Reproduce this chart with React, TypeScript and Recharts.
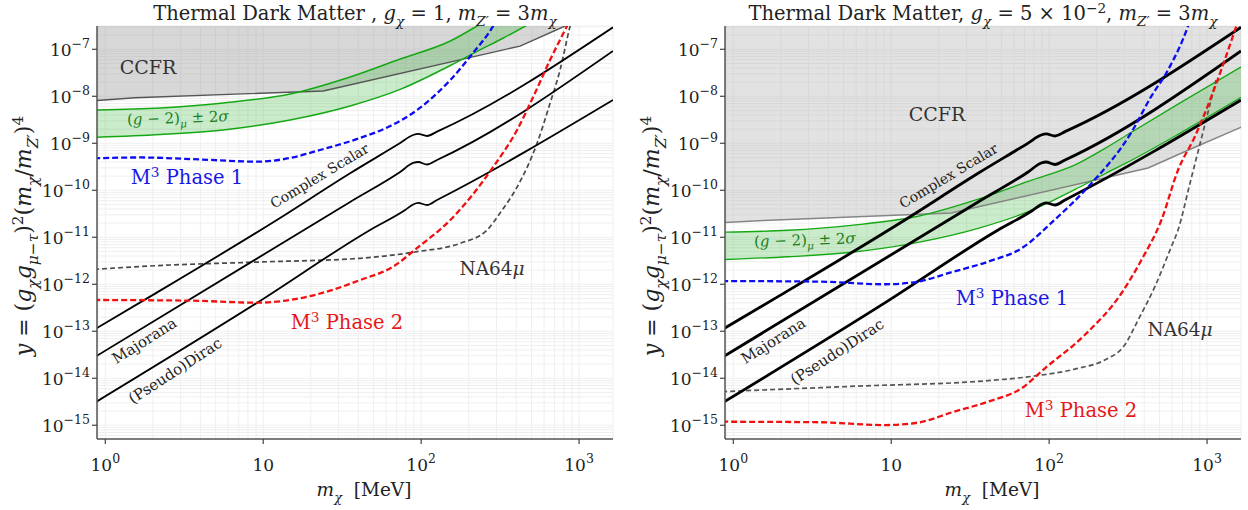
import { ComposedChart, Line, Area, XAxis, YAxis, CartesianGrid } from 'recharts';

// axis ranges
const X_MIN = 0.886;
const X_MAX = 1640;
const Y_MIN = 5.1e-16;
const Y_MAX = 3.13e-7;
const BAND_TOP = 1e-4; // CCFR region runs off the top of the plot

const SERIF = '"DejaVu Serif", "Times New Roman", serif';

// thermal targets (same in both panels)
const scalarX = [0.88, 1.93, 12.2, 35.5, 73.6, 89, 95.7, 109, 126, 1641];
const scalarY = [1.16e-13, 5.52e-13, 2.33e-11, 2.3e-10, 1.01e-9, 1.5e-9, 1.58e-9, 1.43e-9, 1.77e-9, 2.94e-7];
const majX = [0.88, 35.5, 73.6, 89, 95.7, 109, 126, 1641];
const majY = [2.98e-14, 5.64e-11, 2.45e-10, 3.81e-10, 4.0e-10, 3.54e-10, 4.41e-10, 9.2e-8];
const diracX = [0.88, 9.16, 47.5, 79.2, 89, 95.7, 109, 126, 1641];
const diracY = [3.18e-15, 4.06e-13, 1.43e-11, 3.81e-11, 4.99e-11, 5.37e-11, 4.86e-11, 6.22e-11, 8.34e-9];

// CCFR exclusion boundary
const ccfrX = [0.85, 1.55, 24, 423, 815, 1700];
const ccfrLeftY = [8.05e-9, 9.33e-9, 1.3e-8, 1.17e-7, 3.13e-7, 9.2e-7];
const ccfrRightY = [2.05e-11, 2.28e-11, 3.29e-11, 2.98e-10, 7.94e-10, 2.3e-9];

// (g-2)_mu +- 2 sigma band
const g2X = [0.85, 2.23, 5.58, 14.8, 35.5, 73.6, 153, 226, 330, 655, 1641];
const g2LeftHi = [5.11e-9, 5.64e-9, 7.2e-9, 1.12e-8, 2.58e-8, 6.22e-8, 1.5e-7, 3.13e-7, 6.86e-7, 2.7e-6, 1.66e-5];
const g2LeftLo = [1.34e-9, 1.54e-9, 1.92e-9, 3.13e-9, 6.22e-9, 1.4e-8, 4.52e-8, 9.02e-8, 1.72e-7, 6.15e-7, 3.81e-6];
const g2RightHi = [1.28e-11, 1.41e-11, 1.8e-11, 2.8e-11, 6.45e-11, 1.55e-10, 3.75e-10, 7.8e-10, 1.7e-9, 6.8e-9, 4.2e-8];
const g2RightLo = [3.35e-12, 3.85e-12, 4.8e-12, 7.8e-12, 1.55e-11, 3.5e-11, 1.13e-10, 2.25e-10, 4.3e-10, 1.55e-9, 9.5e-9];

// M3 Phase 1
const p1LeftX = [0.85, 1.67, 3.99, 9.16, 14.8, 22.9, 41.1, 63.7, 94.3, 153, 213, 286, 330];
const p1LeftY = [4.8e-10, 4.99e-10, 4.52e-10, 4.06e-10, 4.87e-10, 7.2e-10, 1.3e-9, 2.33e-9, 5.11e-9, 2.22e-8, 8.34e-8, 3.13e-7, 7.6e-7];
const p1RightX = [0.85, 3.45, 9.13, 14.8, 23.6, 41.1, 66.9, 108, 177, 330, 442, 566, 758, 839];
const p1RightY = [1.17e-12, 1.14e-12, 1.0e-12, 1.14e-12, 1.77e-12, 3.03e-12, 5.83e-12, 2.33e-11, 1.19e-10, 1.66e-9, 9.8e-9, 3.63e-8, 3.13e-7, 8.8e-7];

// M3 Phase 2
const p2LeftX = [0.85, 3.45, 9.16, 14.8, 26.5, 41.1, 66.5, 94.3, 153, 286, 405, 512, 655, 839, 1000];
const p2LeftY = [4.63e-13, 4.48e-13, 4.06e-13, 4.63e-13, 7.31e-13, 1.23e-12, 2.37e-12, 5.92e-12, 2.33e-11, 3.13e-10, 1.92e-9, 9.66e-9, 5.92e-8, 3.13e-7, 1.0e-6];
const p2RightX = [0.85, 3.45, 9.13, 14.8, 24.7, 41.1, 66.9, 94, 168, 287, 384, 514, 655, 836, 1064, 1294, 1532, 1740];
const p2RightY = [1.19e-15, 1.16e-15, 1.01e-15, 1.14e-15, 1.92e-15, 3.18e-15, 6.12e-15, 1.63e-14, 8.34e-14, 6.44e-13, 3.29e-12, 2.33e-11, 2.7e-10, 1.38e-9, 9.8e-9, 5.92e-8, 3.13e-7, 1.1e-6];

// NA64mu
const naLeftX = [0.85, 2.12, 9.57, 41.1, 94.3, 177, 262, 316, 405, 542, 655, 758, 877, 1000];
const naLeftY = [2.08e-12, 2.49e-12, 2.98e-12, 3.57e-12, 4.94e-12, 7.45e-12, 1.43e-11, 3.29e-11, 1.17e-10, 1.0e-9, 7.1e-9, 3.63e-8, 3.13e-7, 1.5e-6];
const naRightX = [0.85, 6.0, 41.1, 81.2, 153, 225, 301, 366, 467, 594, 655, 780, 943, 1140];
const naRightY = [5.19e-15, 6.79e-15, 8.89e-15, 1.12e-14, 1.63e-14, 2.45e-14, 5.11e-14, 1.74e-13, 8.89e-13, 6.31e-12, 1.43e-11, 1.43e-10, 1.74e-9, 2.22e-8];

const pts = (xs: number[], ys: number[]) => xs.map((x, i) => ({ x, y: ys[i] }));
const rangePts = (xs: number[], lo: number[], hi: number[]) => xs.map((x, i) => ({ x, r: [lo[i], hi[i]] }));

// grid at every 1..9 x 10^k
const gridVals = (lo: number, hi: number, e0: number, e1: number) => {
  const out: number[] = [];
  for (let e = e0; e <= e1; e++) {
    for (let m = 1; m <= 9; m++) {
      const v = m * Math.pow(10, e);
      if (v >= lo && v <= hi) out.push(v);
    }
  }
  return out;
};
const gridX = gridVals(X_MIN, X_MAX, -1, 3);
const gridY = gridVals(Y_MIN, Y_MAX, -16, -7);

const isDecade = (v: number) => Math.abs(Math.log10(v) - Math.round(Math.log10(v))) < 1e-6;

const XTick = (props: any) => {
  const { x, y, payload } = props;
  const v = payload.value;
  if (!isDecade(v)) return <g />;
  const e = Math.round(Math.log10(v));
  return (
    <g>
      <line x1={x} x2={x} y1={y} y2={y + 5} stroke="#444" strokeWidth={1.2} />
      <text x={x} y={y + 32} textAnchor="middle" fontSize={17} style={{ fontFamily: SERIF }} fill="#222">
        {e === 1 ? '10' : (
          <>10<tspan dy={-8} fontSize={12.5}>{e}</tspan></>
        )}
      </text>
    </g>
  );
};

const YTick = (props: any) => {
  const { x, y, payload } = props;
  const v = payload.value;
  if (!isDecade(v)) return <g />;
  const e = Math.round(Math.log10(v));
  return (
    <g>
      <line x1={x - 5} x2={x} y1={y} y2={y} stroke="#444" strokeWidth={1.2} />
      <text x={x - 7} y={y + 7} textAnchor="end" fontSize={17} style={{ fontFamily: SERIF }} fill="#222">
        10<tspan dy={-8} fontSize={12.5}>{'\u2212' + Math.abs(e)}</tspan>
      </text>
    </g>
  );
};

type Seg = { t: string; it?: boolean; sub?: boolean; sup?: boolean };

const MathText = ({ x, y, segs, size, fill = '#222', anchor = 'middle', rotate = 0 }: {
  x: number; y: number; segs: Seg[]; size: number; fill?: string; anchor?: string; rotate?: number;
}) => {
  let shift = 0;
  const spans = segs.map((s, i) => {
    const target = s.sub ? size * 0.3 : s.sup ? -size * 0.38 : 0;
    const dy = target - shift;
    shift = target;
    return (
      <tspan key={i} dy={dy} fontStyle={s.it ? 'italic' : 'normal'} fontSize={s.sub || s.sup ? size * 0.7 : size}>
        {s.t}
      </tspan>
    );
  });
  return (
    <text
      x={x}
      y={y}
      textAnchor={anchor as any}
      fontSize={size}
      fill={fill}
      style={{ whiteSpace: 'pre', fontFamily: SERIF }}
      transform={rotate ? `rotate(${rotate} ${x} ${y})` : undefined}
    >
      {spans}
    </text>
  );
};

interface PanelProps {
  ccfrY: number[];
  ccfrFill: string;
  ccfrOpacity: number;
  ccfrStroke: string;
  g2Lo: number[];
  g2Hi: number[];
  p1X: number[];
  p1Y: number[];
  p2X: number[];
  p2Y: number[];
  naX: number[];
  naY: number[];
  naColor: string;
  thermalWidth: number;
  g2Width: number;
}

const Panel = (p: PanelProps) => (
  <ComposedChart width={620} height={510} margin={{ top: 26, right: 7, bottom: 31, left: 37 }}>
    <CartesianGrid stroke="#efefef" strokeWidth={1} />
    <XAxis
      dataKey="x"
      type="number"
      scale="log"
      domain={[X_MIN, X_MAX]}
      allowDataOverflow
      ticks={gridX}
      interval={0}
      tick={<XTick />}
      tickLine={false}
      tickSize={0}
      tickMargin={0}
      height={40}
      axisLine={{ stroke: '#555', strokeWidth: 1.5 }}
    />
    <XAxis
      xAxisId="top"
      orientation="top"
      type="number"
      scale="log"
      domain={[X_MIN, X_MAX]}
      allowDataOverflow
      tick={false}
      tickLine={false}
      height={0}
      axisLine={{ stroke: '#555', strokeWidth: 1.5 }}
    />
    <YAxis
      type="number"
      scale="log"
      domain={[Y_MIN, Y_MAX]}
      allowDataOverflow
      ticks={gridY}
      interval={0}
      tick={<YTick />}
      tickLine={false}
      tickSize={0}
      tickMargin={0}
      width={60}
      axisLine={{ stroke: '#555', strokeWidth: 1.5 }}
    />
    <YAxis
      yAxisId="right"
      orientation="right"
      type="number"
      scale="log"
      domain={[Y_MIN, Y_MAX]}
      allowDataOverflow
      tick={false}
      tickLine={false}
      width={0}
      axisLine={{ stroke: '#555', strokeWidth: 1.5 }}
    />

    <Area
      data={rangePts(ccfrX, p.ccfrY, ccfrX.map(() => BAND_TOP))}
      dataKey="r"
      type="linear"
      fill={p.ccfrFill}
      fillOpacity={p.ccfrOpacity}
      stroke="none"
      isAnimationActive={false}
    />
    <Line data={pts(ccfrX, p.ccfrY)} dataKey="y" type="linear" stroke={p.ccfrStroke} strokeWidth={1.4} dot={false} isAnimationActive={false} />

    <Area
      data={rangePts(g2X, p.g2Lo, p.g2Hi)}
      dataKey="r"
      type="monotoneX"
      fill="#3cb83c"
      fillOpacity={0.27}
      stroke="none"
      isAnimationActive={false}
    />
    <Line data={pts(g2X, p.g2Hi)} dataKey="y" type="monotoneX" stroke="#14a814" strokeWidth={p.g2Width} dot={false} isAnimationActive={false} />
    <Line data={pts(g2X, p.g2Lo)} dataKey="y" type="monotoneX" stroke="#14a814" strokeWidth={p.g2Width} dot={false} isAnimationActive={false} />

    <Line data={pts(p.naX, p.naY)} dataKey="y" type="monotoneX" stroke={p.naColor} strokeWidth={1.7} strokeDasharray="5 3" dot={false} isAnimationActive={false} />

    <Line data={pts(scalarX, scalarY)} dataKey="y" type="monotoneX" stroke="#000" strokeWidth={p.thermalWidth} dot={false} isAnimationActive={false} />
    <Line data={pts(majX, majY)} dataKey="y" type="monotoneX" stroke="#000" strokeWidth={p.thermalWidth} dot={false} isAnimationActive={false} />
    <Line data={pts(diracX, diracY)} dataKey="y" type="monotoneX" stroke="#000" strokeWidth={p.thermalWidth} dot={false} isAnimationActive={false} />

    <Line data={pts(p.p1X, p.p1Y)} dataKey="y" type="monotoneX" stroke="#0c0cf2" strokeWidth={2.3} strokeDasharray="6 3" dot={false} isAnimationActive={false} />
    <Line data={pts(p.p2X, p.p2Y)} dataKey="y" type="monotoneX" stroke="#f01010" strokeWidth={2.3} strokeDasharray="6 3" dot={false} isAnimationActive={false} />
  </ComposedChart>
);

const chi: Seg = { t: '\u03c7', it: true, sub: true };
const zp: Seg = { t: 'Z\u2032', it: true, sub: true };

const yLabel: Seg[] = [
  { t: 'y', it: true }, { t: ' = (' }, { t: 'g', it: true }, chi, { t: 'g', it: true }, { t: '\u03bc\u2212\u03c4', it: true, sub: true },
  { t: ')' }, { t: '2', sup: true }, { t: '(' }, { t: 'm', it: true }, chi, { t: '/' }, { t: 'm', it: true }, zp, { t: ')' }, { t: '4', sup: true },
];
const xLabel: Seg[] = [{ t: 'm', it: true }, chi, { t: '  [MeV]' }];
const g2Label: Seg[] = [{ t: '(' }, { t: 'g', it: true }, { t: ' \u2212 2)' }, { t: '\u03bc', it: true, sub: true }, { t: ' \u00b1 2' }, { t: '\u03c3', it: true }];
const ph1: Seg[] = [{ t: 'M' }, { t: '3', sup: true }, { t: ' Phase 1' }];
const ph2: Seg[] = [{ t: 'M' }, { t: '3', sup: true }, { t: ' Phase 2' }];
const na64: Seg[] = [{ t: 'NA64' }, { t: '\u03bc', it: true }];
const titleLeft: Seg[] = [
  { t: 'Thermal Dark Matter , ' }, { t: 'g', it: true }, chi, { t: ' = 1, ' }, { t: 'm', it: true }, zp, { t: ' = 3' }, { t: 'm', it: true }, chi,
];
const titleRight: Seg[] = [
  { t: 'Thermal Dark Matter, ' }, { t: 'g', it: true }, chi, { t: ' = 5 \u00d7 10' }, { t: '\u22122', sup: true }, { t: ', ' },
  { t: 'm', it: true }, zp, { t: ' = 3' }, { t: 'm', it: true }, chi,
];

const BLUE = '#1818e6';
const RED = '#e61818';
const GREEN_TXT = '#1b7f1b';

export default function App() {
  return (
    <div style={{ position: 'absolute', left: 0, top: 0, width: 1248, height: 510, background: '#fff' }}>
      <div style={{ position: 'absolute', left: 0, top: 0 }}>
        <Panel
          ccfrY={ccfrLeftY} ccfrFill="#9c9c9c" ccfrOpacity={0.4} ccfrStroke="#555"
          g2Lo={g2LeftLo} g2Hi={g2LeftHi}
          p1X={p1LeftX} p1Y={p1LeftY} p2X={p2LeftX} p2Y={p2LeftY}
          naX={naLeftX} naY={naLeftY} naColor="#4a4a4a"
          thermalWidth={1.8} g2Width={1.5}
        />
      </div>
      <div style={{ position: 'absolute', left: 628, top: 0 }}>
        <Panel
          ccfrY={ccfrRightY} ccfrFill="#b0b0b0" ccfrOpacity={0.36} ccfrStroke="#858585"
          g2Lo={g2RightLo} g2Hi={g2RightHi}
          p1X={p1RightX} p1Y={p1RightY} p2X={p2RightX} p2Y={p2RightY}
          naX={naRightX} naY={naRightY} naColor="#555"
          thermalWidth={2.8} g2Width={1.3}
        />
      </div>
      <svg width={1248} height={510} style={{ position: 'absolute', left: 0, top: 0, pointerEvents: 'none' }}>
        {/* titles and axis labels */}
        <MathText x={355} y={20} segs={titleLeft} size={19.5} />
        <MathText x={983} y={20} segs={titleRight} size={19.5} />
        <MathText x={31} y={236} segs={yLabel} size={22} rotate={-90} />
        <MathText x={659} y={236} segs={yLabel} size={22} rotate={-90} />
        <MathText x={364} y={496} segs={xLabel} size={18.5} />
        <MathText x={992} y={496} segs={xLabel} size={18.5} />

        {/* left panel annotations */}
        <MathText x={148} y={74} segs={[{ t: 'CCFR' }]} size={19} fill="#333" />
        <MathText x={178} y={123} segs={g2Label} size={15} fill={GREEN_TXT} rotate={-2} />
        <MathText x={187} y={184} segs={ph1} size={19.5} fill={BLUE} />
        <MathText x={322} y={180} segs={[{ t: 'Complex Scalar' }]} size={14} rotate={-31} />
        <MathText x={147} y={345} segs={[{ t: 'Majorana' }]} size={15} rotate={-32} />
        <MathText x={178} y={375} segs={[{ t: '(Pseudo)Dirac' }]} size={15} rotate={-33} />
        <MathText x={347} y={329} segs={ph2} size={19.5} fill={RED} />
        <MathText x={492} y={275} segs={na64} size={18.5} fill="#333" />

        {/* right panel annotations */}
        <MathText x={937} y={121} segs={[{ t: 'CCFR' }]} size={19} fill="#333" />
        <MathText x={951} y={180} segs={[{ t: 'Complex Scalar' }]} size={14} rotate={-31} />
        <MathText x={805} y={245} segs={g2Label} size={15} fill={GREEN_TXT} rotate={-2} />
        <MathText x={1012} y={305} segs={ph1} size={19.5} fill={BLUE} />
        <MathText x={776} y={345} segs={[{ t: 'Majorana' }]} size={15} rotate={-32} />
        <MathText x={840} y={356} segs={[{ t: '(Pseudo)Dirac' }]} size={15} rotate={-33} />
        <MathText x={1081} y={417} segs={ph2} size={19.5} fill={RED} />
        <MathText x={1180} y={336} segs={na64} size={18.5} fill="#333" />
      </svg>
    </div>
  );
}
